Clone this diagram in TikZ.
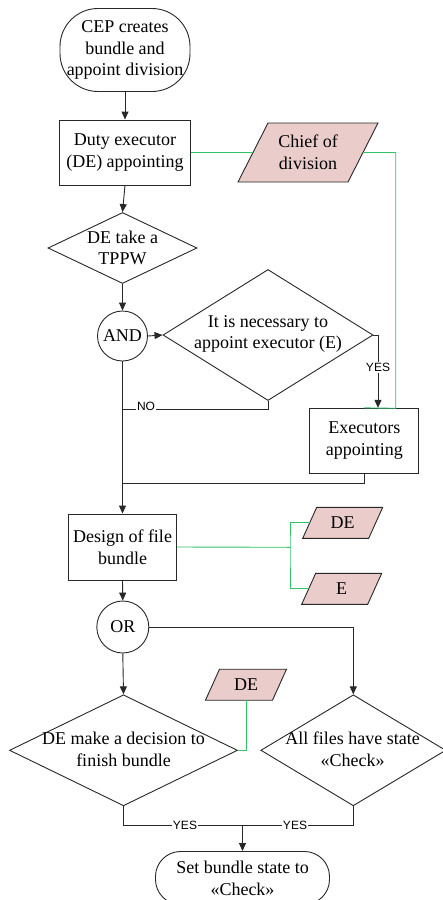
\documentclass[tikz,border=0pt]{standalone}
\usepackage{fontspec}
\setmainfont{LiberationSerif}[Extension=.ttf,UprightFont=*-Regular,BoldFont=*-Bold]
\newfontfamily\labfont{Liberation Sans}
\usetikzlibrary{shapes.geometric,arrows.meta}
\definecolor{ln}{RGB}{40,40,40}
\definecolor{pk}{RGB}{234,205,203}
\definecolor{gr}{RGB}{50,195,105}
\tikzset{
  base/.style={draw=ln,line width=0.9pt,inner sep=0pt,align=center,font=\fontsize{18}{21.7}\selectfont},
  boxn/.style={base,rectangle},
  term/.style={base,rectangle},
  dia/.style={draw=ln,line width=0.9pt,diamond,inner sep=0pt},
  circ/.style={base,circle},
  txt/.style={inner sep=0pt,align=center,font=\fontsize{18}{21.7}\selectfont},
  pg/.style={draw=ln,fill=pk,line width=0.9pt,line join=miter},
  conn/.style={draw=ln,line width=0.9pt},
  arr/.style={conn,-{Triangle[length=8pt,width=7pt]}},
  gconn/.style={draw=gr,line width=0.9pt},
  lab/.style={fill=white,inner sep=1pt,font=\labfont\fontsize{12}{14}\selectfont}
}
\newcommand\pgram[7]{%
  \filldraw[pg] ({#2-#4/2},{#3+#5/2}) -- ({#2-#4/2+#6},{#3-#5/2}) -- ({#2+#4/2},{#3-#5/2}) -- ({#2+#4/2-#6},{#3+#5/2}) -- cycle;
  \node[txt] (#1) at (#2,#3) {#7};
  \coordinate (#1-w) at ({#2-#4/2+#6/2},#3);
  \coordinate (#1-e) at ({#2+#4/2-#6/2},#3);
}
\begin{document}
\begin{tikzpicture}[x=1pt,y=-1pt]
\useasboundingbox[fill=white] (0,0) rectangle (442,900);
% nodes
\node[term,minimum width=130,minimum height=83,rounded corners=38] (start) at (125,50) {CEP creates\\bundle and\\appoint division};
\node[boxn,minimum width=131,minimum height=65] (duty) at (125,152.5) {Duty executor\\(DE) appointing};
\pgram{chief}{308}{152.5}{140}{59}{30}{Chief of\\division}
\node[dia,minimum width=149,minimum height=71] (d1) at (122.5,248) {};
\node[txt] (d1t) at (122.5,248) {DE take a\\TPPW};
\node[circ,minimum size=50] (and) at (122.5,336) {AND};
\node[dia,minimum width=210,minimum height=131] (d2) at (268,335) {};
\node[txt] (d2t) at (268,334) {It is necessary to\\appoint executor (E)};
\node[boxn,minimum width=109,minimum height=65] (exec) at (364.3,440.8) {Executors\\appointing};
\node[boxn,minimum width=108,minimum height=66] (design) at (122.5,547) {Design of file\\bundle};
\pgram{de}{342.7}{522.8}{80}{31}{14}{DE}
\pgram{e}{341.7}{588.8}{80}{31}{14}{E}
\node[circ,minimum size=52] (or) at (122.8,627) {OR};
\pgram{dd}{246}{684.7}{81}{31}{14}{DE}
\node[dia,minimum width=228,minimum height=111] (d3) at (123.5,750.3) {};
\node[txt] (d3t) at (123.5,749.5) {DE make a decision to\\finish bundle};
\node[dia,minimum width=185,minimum height=111] (d4) at (353.3,750.3) {};
\node[txt] (d4t) at (352.5,749.5) {All files have state\\«Check»};
\node[term,minimum width=174,minimum height=53,rounded corners=25] (end) at (242.5,878) {Set bundle state to\\«Check»};
% coordinates
\coordinate (yesA) at (378,335);
\coordinate (noJ) at (122.5,409);
\coordinate (exJ) at (122.5,483.3);
\coordinate (gA) at (395.7,408.3);
\coordinate (gB) at (290,547.3);
\coordinate (ddS) at (246.7,700.2);
\coordinate (jB) at (242.5,825.7);
% connectors
\draw[arr] (start.south) -- (duty.north);
\draw[arr] (duty.south) -- (d1.north);
\draw[arr] (d1.south) -- (and.north);
\draw[arr] (and.east) -- (d2.west);
\draw[arr] (d2.east) -- (yesA) -- (yesA |- exec.north);
\node[lab] (yes1) at (378,367.7) {YES};
\draw[conn] (d2.south) |- (noJ);
\node[lab] (no1) at (146,406) {NO};
\draw[conn] (exec.south) |- (exJ);
\draw[arr] (and.south) -- (design.north);
\draw[gconn] (duty.east) -- (chief-w);
\draw[gconn] (chief-e) -| (gA) -- (exec.north);
\draw[gconn] (design.east) -- (gB);
\draw[gconn] (de-w) -| (gB) |- (e-w);
\draw[arr] (design.south) -- (or.north);
\draw[arr] (or.east) -| (d4.north);
\draw[arr] (or.south) -- (d3.north);
\draw[gconn] (ddS) |- (d3.east);
\draw[conn] (d3.south) |- (jB);
\draw[conn] (d4.south) |- (jB);
\draw[arr] (jB) -- (end.north);
\node[lab] (yes2) at (185,825.7) {YES};
\node[lab] (yes3) at (295,825.7) {YES};
\end{tikzpicture}
\end{document}
